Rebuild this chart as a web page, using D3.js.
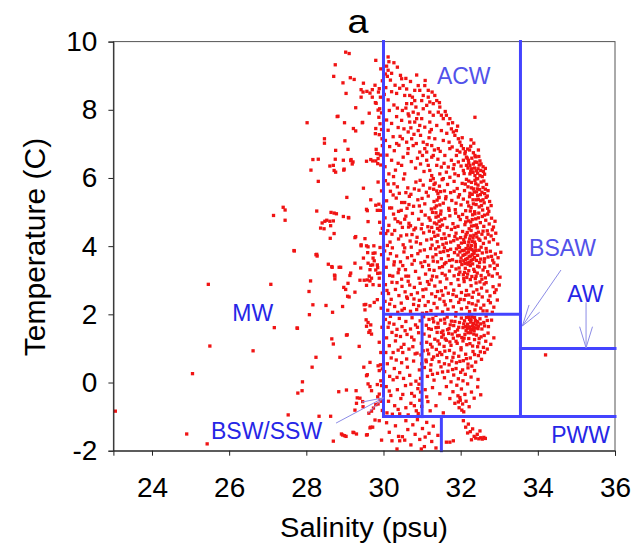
<!DOCTYPE html>
<html>
<head>
<meta charset="utf-8">
<script src="https://cdn.jsdelivr.net/npm/d3@7/dist/d3.min.js"></script>
<style>
  html, body { margin: 0; padding: 0; background: #fff; }
  svg { display: block; font-family: "Liberation Sans", Arial, sans-serif; }
</style>
</head>
<body>
<svg id="chart" width="644" height="552"></svg>
<script>
// Salinity / temperature samples, flat [S, T, S, T, ...] lists grouped by water mass.

// Mixed / melt water, fresher than 30 psu
const mwSamples = [
  29.02,9.69, 29.11,9.65, 28.75,9.32, 28.71,8.98, 29.80,9.45, 29.14,8.94, 29.24,8.89, 28.95,8.79,
  29.03,8.48, 29.48,8.78, 29.42,8.59, 29.47,8.52, 29.57,8.54, 29.71,8.59, 29.78,8.72, 29.42,8.37,
  29.65,8.49, 29.71,8.37, 29.87,8.52, 29.92,8.37, 29.81,8.19, 29.90,8.03, 29.95,7.91, 29.28,8.06,
  29.63,7.90, 28.82,7.81, 28.02,7.62, 28.99,7.62, 29.46,7.63, 29.22,7.45, 29.28,7.38, 29.80,7.45,
  29.91,7.59, 29.95,7.42, 29.89,7.27, 29.96,7.15, 28.47,7.15, 28.47,7.02, 29.00,7.09, 28.76,6.81,
  29.08,6.84, 29.81,6.84, 29.86,6.71, 29.92,6.67, 29.80,6.50, 29.86,6.57, 28.17,6.54, 28.31,6.55,
  28.75,6.55, 28.96,6.52, 29.16,6.54, 29.21,6.47, 29.56,6.49, 29.67,6.54, 29.72,6.50, 28.61,6.35,
  28.70,6.37, 28.72,6.22, 28.97,6.23, 28.12,6.23, 29.93,6.38, 29.89,8.62, 29.79,8.21, 29.86,7.99,
  28.80,7.80, 29.45,7.62, 29.79,7.30, 29.82,6.72, 29.85,6.42, 29.15,6.51, 29.19,6.41, 28.98,6.26,
  28.76,6.17, 29.97,8.85, 29.93,9.20, 29.88,7.78, 29.97,6.95,
  28.31,5.90, 29.48,5.70, 29.05,5.43, 29.67,5.36, 29.80,5.20, 29.88,5.23, 29.84,5.05, 29.92,5.05,
  29.97,5.17, 28.27,5.03, 28.64,4.99, 28.72,4.97, 28.78,4.95, 28.96,4.87, 29.10,4.83, 29.58,5.04,
  28.48,4.73, 28.41,4.68, 28.53,4.76, 28.61,4.73, 28.70,4.74, 28.37,4.53, 28.46,4.51, 28.63,4.60,
  29.60,4.72, 28.72,4.37, 28.62,4.23, 29.26,4.25, 29.52,4.22, 29.93,4.38, 29.42,4.04, 29.60,3.98,
  29.75,4.01, 29.91,3.96, 27.40,5.14, 27.45,5.06, 27.15,4.90, 27.45,4.76, 29.56,5.08, 29.09,4.84,
  29.28,4.28, 29.95,5.62, 29.90,4.70, 29.97,4.52, 29.86,5.88,
  27.68,3.87, 28.25,3.75, 28.28,3.71, 29.48,3.65, 29.73,3.65, 29.78,3.80, 29.95,3.75, 28.57,3.47,
  28.67,3.38, 28.89,3.38, 29.26,3.50, 29.41,3.36, 29.67,3.44, 29.65,3.31, 29.84,3.45, 29.15,3.21,
  29.13,3.14, 28.74,3.13, 28.74,3.04, 29.91,3.21, 29.89,3.06, 29.69,3.06, 29.58,3.01, 29.65,2.98,
  28.11,2.98, 28.07,2.67, 28.97,2.79, 29.07,2.53, 29.11,2.51, 29.26,2.65, 29.56,2.85, 29.73,2.87,
  29.89,2.85, 28.17,2.28, 28.51,2.26, 28.68,2.06, 28.94,2.23, 29.50,2.28, 29.65,2.25, 29.76,2.35,
  29.84,2.43, 28.66,3.40, 28.73,3.15, 28.85,3.38, 29.02,2.73, 29.08,2.91, 29.39,3.00, 29.50,3.00,
  29.42,4.01, 29.56,4.01, 29.59,3.81, 29.73,3.79, 29.60,3.50, 29.72,3.45, 29.76,3.57, 29.63,3.12,
  29.80,3.30, 29.85,3.37, 29.85,3.20, 29.52,2.13, 29.54,2.29, 29.97,2.62, 29.94,2.18,
  25.46,2.88, 27.08,2.88, 27.17,1.61, 27.77,1.59, 27.69,3.86, 28.27,3.76,
  28.08,1.99, 27.76,1.60, 28.70,1.13, 28.66,1.28, 29.06,1.40, 29.55,1.84, 29.60,1.76, 29.67,1.69,
  29.56,1.65, 29.65,1.52, 29.69,1.42, 29.62,1.47, 29.37,1.06, 29.89,1.18, 28.25,0.74, 28.87,0.74,
  29.65,0.59, 29.49,0.45, 29.86,0.49, 29.92,0.52, 29.89,0.35, 29.97,0.40, 28.15,0.45, 29.58,0.23,
  29.93,0.05, 29.95,-0.09, 29.84,-0.06, 27.90,0.02, 27.89,-0.24, 27.78,-0.31, 28.84,-0.27, 29.29,-0.24,
  29.65,-0.12, 29.69,-0.24, 29.89,-0.34, 29.85,-0.42, 29.91,-0.51, 29.86,-0.63, 29.95,-0.55, 29.32,-0.45,
  29.46,-0.56, 29.80,-0.65, 29.74,-0.75, 29.69,-0.84, 29.62,-0.90, 28.33,-0.99, 28.63,-0.99, 29.26,-0.81,
  25.50,1.07, 26.62,0.93, 25.05,0.26, 23.05,-0.84, 27.53,-0.95, 29.04,1.39, 29.56,0.20, 29.60,-0.04,
  29.39,-0.46, 29.30,-0.61, 29.47,-0.71, 29.04,-0.22, 29.96,1.62, 29.93,0.88, 29.97,-0.82,
  29.78,-1.10, 29.89,-1.12, 29.72,-1.31, 28.91,-1.51, 28.99,-1.56, 29.21,-1.46, 29.30,-1.51, 28.70,-1.72,
  29.58,-1.53, 29.65,-1.33, 29.95,-1.69, 28.94,-1.54, 29.03,-1.58, 29.23,-1.47, 29.56,-1.54, 29.67,-1.31,
  24.90,-1.51, 25.43,-1.80
];

// Alaskan Coastal Water: 30 to 33.55 psu, warmer than 2 C
const acwSamples = [
  30.12,9.55, 30.14,9.41, 30.08,9.28, 30.12,9.16, 30.21,9.07, 30.10,8.98, 30.18,8.87, 30.30,8.72,
  30.06,8.65, 30.21,8.53, 30.34,8.48, 30.42,8.63, 30.12,8.29, 30.27,8.14, 30.15,7.98, 30.34,7.80,
  30.08,7.70, 30.21,7.60, 30.38,7.48, 30.12,7.40, 30.25,7.21, 30.05,7.10, 30.34,7.01, 30.16,6.92,
  30.28,6.80, 30.09,6.67, 30.21,6.52, 30.38,6.43, 30.04,6.33, 30.31,6.23, 30.14,6.12, 30.26,6.04,
  30.40,6.96, 30.43,7.22, 30.36,8.05, 30.02,8.45, 30.05,9.05,
  30.47,8.91, 30.51,8.71, 30.55,8.42, 30.60,8.18, 30.49,7.98, 30.47,7.69, 30.53,7.44, 30.49,7.15,
  30.60,7.05, 30.64,6.86, 30.51,6.61, 30.47,6.37, 30.55,6.12, 30.68,8.42, 30.75,8.37, 30.81,8.27,
  30.73,8.18, 30.84,8.08, 30.77,7.93, 30.90,7.88, 30.86,7.74, 30.81,7.64, 30.94,7.54, 30.90,7.39,
  30.96,7.25, 31.03,7.05, 31.07,6.86, 31.01,6.66, 31.12,6.52, 31.16,6.37, 31.20,6.22, 31.25,6.07,
  31.29,5.98, 30.90,8.71, 30.94,8.57, 31.07,8.71, 31.03,8.42, 31.16,8.37, 31.20,8.23, 31.12,8.13,
  31.29,8.18, 31.33,8.42, 31.38,8.27, 31.46,8.08, 31.42,7.93, 31.50,7.84, 31.55,7.74, 31.63,7.84,
  31.72,7.74, 31.68,7.59, 31.76,7.44, 31.81,7.35, 31.89,7.39, 31.85,7.25, 31.94,7.15, 31.98,7.05,
  32.02,6.95, 32.07,6.86, 31.98,6.76, 32.11,6.71, 32.15,6.61, 32.20,6.52, 32.24,6.37, 32.28,6.27,
  32.32,6.17, 32.37,6.07, 32.41,5.98, 32.24,6.12, 32.07,6.22, 31.94,6.47, 31.81,6.27, 31.63,6.17,
  31.55,5.98, 31.46,6.12, 31.38,6.37, 31.29,6.66, 31.25,6.95, 31.33,7.15, 31.20,7.35, 31.07,7.49,
  30.99,7.74, 31.20,7.64, 31.38,7.54, 31.50,7.39, 31.55,7.10, 31.42,6.86, 31.59,6.66, 31.72,6.86,
  31.76,6.52, 31.89,6.66, 32.07,6.52, 32.15,6.37, 32.37,6.66, 32.37,6.47, 32.45,6.27, 32.50,6.07,
  31.94,6.07, 31.72,6.02, 31.85,6.12, 31.50,6.32, 31.68,6.32, 31.25,6.61, 31.12,6.76, 30.94,6.76,
  30.77,6.95, 30.73,7.15, 30.64,7.35, 30.68,7.64, 30.64,7.88, 31.03,8.03, 31.20,7.93, 31.29,7.84,
  30.60,8.61, 30.81,8.57, 30.99,8.27, 31.16,8.57, 32.37,7.78,
  32.18,6.85, 32.26,6.93, 32.33,6.74, 32.29,6.58, 32.42,6.46, 32.48,6.38, 32.36,6.29, 32.52,6.22,
  32.58,6.33, 32.44,6.14, 32.31,6.17, 32.56,6.04, 32.62,6.11, 32.50,6.50, 32.39,6.62, 32.21,6.44,
  32.12,6.77, 32.46,6.82, 32.34,7.02, 32.27,7.12,
  30.58,8.05, 30.66,7.82, 30.71,7.47, 30.79,7.28, 30.85,7.01, 30.63,6.72, 30.72,6.48, 30.83,6.29,
  30.96,6.41, 31.05,6.19, 30.88,6.58, 31.13,6.98, 31.18,7.18, 31.24,7.42, 31.32,6.82, 31.41,6.55,
  31.47,6.78, 31.57,6.43, 31.64,7.31, 31.70,7.05, 31.78,6.91, 31.83,6.39, 31.91,6.81, 32.01,6.35,
  32.09,6.13, 32.19,6.29, 32.26,6.19, 32.33,6.41, 32.41,6.21, 32.47,6.63, 32.53,6.41, 32.59,6.19,
  32.64,6.28, 32.17,6.58, 32.23,6.82, 32.04,7.18, 31.92,7.52, 31.79,7.62, 31.60,7.95, 31.45,8.21,
  31.26,8.52, 31.08,8.86, 30.86,9.02, 30.70,8.83, 30.36,9.25, 30.27,9.38, 30.44,9.01, 30.58,8.92,
  30.05,5.92, 30.18,5.61, 30.27,5.83, 30.41,5.55, 30.52,5.97, 30.63,5.71, 30.71,5.52, 30.84,5.88,
  30.92,5.64, 31.03,5.79, 31.11,5.58, 31.22,5.93, 31.30,5.67, 31.34,5.85, 31.41,5.54, 31.45,5.76,
  31.52,5.95, 31.58,5.62, 31.66,5.81, 31.74,5.57, 31.83,5.90, 31.91,5.69, 31.97,5.51, 32.04,5.84,
  32.10,5.63, 32.15,5.96, 32.19,5.74, 32.24,5.55, 32.28,5.87, 32.33,5.68, 32.37,5.93, 32.41,5.59,
  32.45,5.79, 32.49,5.66, 32.53,5.88, 32.58,5.72, 32.62,5.54, 32.67,5.81, 32.71,5.63, 30.36,5.74,
  30.95,5.93, 31.48,5.60, 32.21,5.91, 32.39,5.83, 32.55,5.58, 32.30,5.52, 32.44,5.98, 32.60,5.91,
  30.08,5.33, 30.21,5.12, 30.33,5.41, 30.46,5.05, 30.55,5.28, 30.67,5.46, 30.78,5.17, 30.89,5.36,
  30.98,5.02, 31.07,5.24, 31.16,5.47, 31.24,5.09, 31.31,5.31, 31.37,5.18, 31.43,5.42, 31.49,5.03,
  31.55,5.26, 31.61,5.39, 31.69,5.11, 31.77,5.34, 31.86,5.07, 31.94,5.44, 32.01,5.21, 32.07,5.38,
  32.13,5.04, 32.18,5.29, 32.23,5.45, 32.27,5.13, 32.32,5.36, 32.36,5.01, 32.40,5.22, 32.44,5.48,
  32.48,5.15, 32.52,5.33, 32.57,5.06, 32.61,5.27, 32.66,5.43, 32.70,5.11, 32.75,5.31, 32.79,5.19,
  31.39,5.35, 31.46,5.21, 31.33,5.12, 32.25,5.03, 32.46,5.37, 30.61,5.11, 31.88,5.26,
  30.04,4.83, 30.14,4.61, 30.26,4.94, 30.37,4.72, 30.49,4.55, 30.58,4.88, 30.66,4.67, 30.75,4.96,
  30.83,4.53, 30.91,4.79, 31.00,4.64, 31.08,4.91, 31.15,4.57, 31.21,4.76, 31.27,4.99, 31.32,4.68,
  31.36,4.85, 31.40,4.52, 31.44,4.73, 31.48,4.94, 31.53,4.62, 31.59,4.81, 31.65,4.55, 31.72,4.89,
  31.80,4.66, 31.87,4.97, 31.93,4.58, 31.99,4.78, 32.05,4.93, 32.11,4.63, 32.16,4.84, 32.22,4.51,
  32.26,4.71, 32.31,4.92, 32.35,4.60, 32.39,4.80, 32.43,4.54, 32.47,4.97, 32.51,4.69, 32.56,4.87,
  32.60,4.58, 32.65,4.76, 32.70,4.94, 32.74,4.65, 32.80,4.82, 32.85,4.56, 32.89,4.73, 31.38,4.65,
  31.42,4.88, 31.50,4.77, 32.20,4.74, 32.28,4.59, 32.37,4.95, 30.70,4.60, 31.25,4.55,
  30.06,4.37, 30.17,4.12, 30.29,4.46, 30.39,4.21, 30.51,4.04, 30.60,4.33, 30.69,4.15, 30.79,4.48,
  30.87,4.26, 30.96,4.07, 31.04,4.39, 31.12,4.18, 31.19,4.44, 31.26,4.03, 31.33,4.29, 31.39,4.13,
  31.45,4.47, 31.51,4.22, 31.57,4.36, 31.63,4.09, 31.70,4.31, 31.76,4.49, 31.82,4.16, 31.88,4.38,
  31.94,4.01, 32.00,4.25, 32.05,4.43, 32.10,4.11, 32.14,4.34, 32.19,4.02, 32.23,4.21, 32.27,4.46,
  32.30,4.14, 32.34,4.32, 32.38,4.05, 32.42,4.27, 32.46,4.41, 32.50,4.17, 32.55,4.35, 32.59,4.08,
  32.64,4.24, 32.69,4.45, 32.74,4.12, 32.79,4.30, 32.85,4.19, 32.91,4.38, 32.96,4.06, 31.85,4.28,
  32.08,4.19, 32.17,4.40, 32.25,4.30, 32.32,4.24, 32.40,4.37, 31.60,4.23, 30.45,4.30,
  30.03,3.86, 30.12,3.62, 30.23,3.95, 30.34,3.71, 30.44,3.54, 30.53,3.83, 30.62,3.66, 30.72,3.97,
  30.80,3.58, 30.89,3.78, 30.97,3.51, 31.06,3.89, 31.14,3.69, 31.22,3.93, 31.29,3.56, 31.36,3.75,
  31.43,3.98, 31.50,3.63, 31.56,3.84, 31.62,3.52, 31.68,3.72, 31.74,3.91, 31.79,3.60, 31.84,3.81,
  31.89,3.55, 31.93,3.74, 31.97,3.96, 32.01,3.65, 32.04,3.87, 32.08,3.57, 32.11,3.76, 32.14,3.93,
  32.17,3.64, 32.20,3.83, 32.23,3.53, 32.26,3.71, 32.29,3.90, 32.32,3.61, 32.35,3.79, 32.38,3.97,
  32.41,3.58, 32.44,3.73, 32.48,3.88, 32.52,3.62, 32.56,3.80, 32.61,3.54, 32.66,3.93, 32.71,3.68,
  32.77,3.85, 32.83,3.59, 32.90,3.77, 32.97,3.66, 33.04,3.82, 32.16,3.80, 32.22,3.69, 32.27,3.58,
  32.33,3.86, 32.18,3.51, 32.06,3.73, 32.13,3.61, 32.25,3.94, 31.98,3.83, 32.36,3.67,
  30.07,3.38, 30.16,3.14, 30.27,3.45, 30.38,3.22, 30.47,3.03, 30.57,3.31, 30.65,3.12, 30.74,3.47,
  30.83,3.26, 30.92,3.06, 31.01,3.40, 31.09,3.18, 31.17,3.44, 31.24,3.01, 31.31,3.29, 31.38,3.10,
  31.45,3.37, 31.52,3.20, 31.58,3.48, 31.64,3.04, 31.71,3.27, 31.77,3.41, 31.83,3.13, 31.88,3.33,
  31.93,3.02, 31.98,3.24, 32.03,3.46, 32.07,3.16, 32.12,3.35, 32.16,3.08, 32.21,3.28, 32.25,3.43,
  32.29,3.11, 32.34,3.32, 32.38,3.05, 32.43,3.21, 32.48,3.39, 32.53,3.14, 32.58,3.30, 32.64,3.07,
  32.70,3.25, 32.76,3.42, 32.82,3.12, 32.88,3.34, 32.95,3.19, 33.02,3.09, 32.19,3.47, 31.96,3.36,
  32.10,3.23, 30.50,3.43, 31.60,3.15,
  30.05,2.87, 30.13,2.61, 30.22,2.94, 30.31,2.73, 30.40,2.55, 30.48,2.82, 30.56,2.66, 30.64,2.97,
  30.72,2.58, 30.80,2.79, 30.88,2.63, 30.95,2.91, 31.03,2.52, 31.10,2.74, 31.18,2.88, 31.25,2.60,
  31.33,2.83, 31.40,2.67, 31.47,2.95, 31.54,2.56, 31.61,2.78, 31.68,2.62, 31.75,2.90, 31.82,2.71,
  31.89,2.53, 31.96,2.85, 32.02,2.64, 32.09,2.96, 32.15,2.70, 32.21,2.57, 32.27,2.84, 32.33,2.65,
  32.40,2.92, 32.47,2.59, 32.54,2.77, 32.61,2.89, 32.68,2.68, 32.76,2.54, 32.84,2.81, 32.92,2.72,
  33.00,2.86, 30.35,2.93, 30.60,2.51, 31.50,2.69,
  30.04,2.38, 30.11,2.12, 30.20,2.44, 30.29,2.23, 30.37,2.06, 30.46,2.33, 30.54,2.17, 30.62,2.47,
  30.70,2.09, 30.78,2.29, 30.86,2.14, 30.93,2.41, 31.01,2.03, 31.08,2.26, 31.16,2.37, 31.23,2.11,
  31.31,2.32, 31.39,2.19, 31.46,2.45, 31.53,2.07, 31.60,2.28, 31.67,2.15, 31.74,2.40, 31.81,2.22,
  31.88,2.05, 31.95,2.35, 32.02,2.16, 32.09,2.43, 32.16,2.20, 32.23,2.08, 32.30,2.31, 32.37,2.13,
  32.45,2.39, 32.52,2.18, 32.60,2.27, 32.68,2.10, 32.77,2.34, 32.86,2.21, 32.95,2.42,
  32.12,5.82, 32.28,5.71, 32.35,5.59, 32.43,5.68, 32.51,5.51, 32.64,5.67, 32.69,5.47, 32.58,5.36,
  32.40,5.36, 32.21,5.18, 32.33,5.24, 32.54,5.19, 32.73,5.02, 32.62,4.91, 32.46,4.83, 32.30,4.78,
  32.13,4.71, 32.41,4.62, 32.58,4.44, 32.82,4.48, 32.71,4.35, 32.47,4.21, 32.36,4.12, 32.21,4.12,
  32.12,4.27, 32.02,4.09, 31.91,4.21, 32.28,4.02, 32.53,3.97, 32.67,3.83, 32.80,3.70, 32.62,3.63,
  32.49,3.52, 32.40,3.87, 32.30,3.75, 32.21,3.92, 32.09,3.88, 31.99,3.55, 32.11,3.49, 32.31,3.48,
  32.44,3.41, 32.62,3.38, 32.86,3.51, 32.95,3.44, 32.73,3.16, 32.55,3.03, 32.40,3.12, 32.25,3.02,
  32.08,3.05, 31.95,3.17, 32.18,3.18, 32.36,3.26, 32.50,2.95, 32.66,2.93, 32.88,2.64, 32.72,2.41,
  32.56,2.51, 32.42,2.72, 32.30,2.50, 32.13,2.56, 31.99,2.44, 32.21,2.34, 32.40,2.27, 32.58,2.10,
  32.82,2.06, 31.31,5.81, 31.38,5.62, 31.44,5.43, 31.36,4.98, 31.47,4.58, 31.30,4.41, 31.41,4.32,
  31.54,4.05, 31.35,3.92, 31.47,3.82, 31.28,3.68, 31.40,3.54, 31.53,3.40, 31.19,3.31, 31.07,3.55,
  30.95,3.86, 30.85,4.12, 30.74,4.34, 30.65,4.56, 30.55,4.79, 30.47,5.28, 30.39,5.02, 30.30,4.80,
  30.22,4.35, 30.10,4.02, 30.18,3.78, 30.28,3.54, 30.40,3.32, 30.58,3.12, 30.68,2.86, 30.79,2.45,
  30.91,2.25, 31.02,2.72, 31.14,2.96, 31.27,3.12, 31.66,3.87, 31.74,4.12, 31.85,4.55, 31.95,4.87,
  31.70,5.05, 31.83,5.61, 31.62,5.45, 31.20,5.70, 31.00,5.40, 30.80,5.68, 30.58,5.57, 30.25,5.50,
  30.12,5.82, 30.16,5.12, 30.11,4.45, 30.24,3.12, 30.09,2.70, 30.16,2.30, 30.48,2.12, 31.12,2.05,
  31.35,2.52, 31.57,2.38, 31.80,2.58, 31.71,3.58, 31.89,3.92, 31.58,3.95, 31.24,4.21, 30.98,4.51,
  30.73,3.72, 30.55,3.95, 30.44,4.68, 30.66,5.22, 30.93,5.18, 31.18,4.83
];

// Bering Shelf Water / Siberian Shelf Water: 30 to 31 psu, -1 to 2 C
const bswSamples = [
  30.05,1.85, 30.12,1.62, 30.08,1.31, 30.18,1.94, 30.22,1.47, 30.15,1.08, 30.27,1.71, 30.31,1.22,
  30.06,0.88, 30.35,1.56, 30.41,1.88, 30.44,1.35, 30.38,0.95, 30.48,1.64, 30.53,1.12, 30.58,1.79,
  30.61,1.41, 30.66,0.98, 30.70,1.57, 30.74,1.90, 30.79,1.25, 30.83,1.69, 30.87,0.86, 30.91,1.46,
  30.95,1.81, 30.20,0.72, 30.10,0.55, 30.28,0.41, 30.16,0.18, 30.33,0.66, 30.25,0.08, 30.07,-0.12,
  30.36,-0.21, 30.19,-0.38, 30.42,0.29, 30.47,0.58, 30.52,0.12, 30.57,-0.09, 30.62,0.45, 30.68,0.21,
  30.73,-0.32, 30.78,0.63, 30.84,0.04, 30.89,-0.18, 30.93,0.37, 30.97,0.81, 30.13,-0.55, 30.29,-0.68,
  30.45,-0.47, 30.58,-0.74, 30.71,-0.61, 30.85,-0.83, 30.94,-0.52, 30.09,-0.89, 30.23,-0.93, 30.38,-0.79,
  30.64,-0.95, 30.80,-0.40, 30.96,-0.28, 30.99,-0.70, 30.90,-0.91, 30.03,0.32, 30.50,0.88, 30.98,1.15,
  30.76,1.05, 30.96,0.12, 30.92,-0.05, 30.99,0.55,
  30.15,1.75, 30.33,1.38, 30.56,1.52, 30.73,1.33, 30.88,1.62, 30.46,1.03, 30.25,0.88, 30.60,0.69,
  30.82,0.84, 30.35,0.15, 30.71,-0.05, 30.50,-0.35, 30.15,-0.25, 30.42,-0.92, 30.80,-0.68
];

// Bering Sea Anadyr Water: 31 to 33.55 psu, -1 to 2 C
const bsawSamples = [
  31.04,1.93, 31.11,1.68, 31.18,1.85, 31.24,1.56, 31.30,1.78, 31.36,1.97, 31.42,1.62, 31.48,1.83,
  31.54,1.51, 31.59,1.74, 31.65,1.92, 31.70,1.58, 31.76,1.80, 31.82,1.67, 31.87,1.95, 31.92,1.54,
  31.97,1.76, 32.02,1.89, 32.06,1.61, 32.10,1.81, 32.14,1.52, 32.18,1.71, 32.21,1.94, 32.24,1.63,
  32.27,1.84, 32.30,1.55, 32.33,1.73, 32.36,1.91, 32.39,1.60, 32.42,1.79, 32.46,1.66, 32.50,1.87,
  32.55,1.57, 32.60,1.76, 32.66,1.95, 32.72,1.64, 32.80,1.83, 32.20,1.62, 32.26,1.77, 32.31,1.66,
  32.35,1.52, 32.23,1.85, 32.17,1.58, 32.40,1.69,
  31.05,1.42, 31.12,1.18, 31.19,1.36, 31.26,1.04, 31.33,1.27, 31.39,1.47, 31.45,1.13, 31.51,1.33,
  31.57,1.06, 31.63,1.24, 31.69,1.44, 31.75,1.09, 31.81,1.30, 31.86,1.49, 31.91,1.15, 31.96,1.38,
  32.01,1.02, 32.06,1.22, 32.11,1.41, 32.16,1.11, 32.21,1.29, 32.26,1.46, 32.31,1.07, 32.36,1.26,
  32.41,1.39, 32.47,1.16, 32.53,1.34, 32.59,1.03, 32.65,1.21, 32.71,1.45, 32.78,1.12, 32.86,1.31,
  31.72,1.19, 31.55,1.40, 32.03,1.32,
  31.03,0.93, 31.10,0.66, 31.17,0.84, 31.23,0.52, 31.30,0.75, 31.37,0.97, 31.44,0.61, 31.51,0.82,
  31.58,0.55, 31.64,0.73, 31.71,0.94, 31.77,0.63, 31.83,0.86, 31.89,0.58, 31.95,0.77, 32.01,0.96,
  32.07,0.64, 32.13,0.83, 32.19,0.54, 32.25,0.72, 32.32,0.91, 32.39,0.60, 32.46,0.79, 32.54,0.68,
  32.62,0.88, 31.46,0.88,
  31.06,0.44, 31.14,0.18, 31.22,0.36, 31.31,0.07, 31.40,0.27, 31.49,0.46, 31.58,0.14, 31.67,0.33,
  31.75,0.02, 31.82,0.22, 31.88,0.41, 31.94,0.11, 32.00,0.30, 32.06,0.05, 32.12,0.24, 32.19,0.43,
  32.27,0.16, 32.36,0.35, 32.45,0.09, 31.79,0.38,
  31.08,-0.21, 31.15,-0.56, 31.21,-0.83, 31.12,-0.42, 31.27,-0.15, 31.36,-0.68, 31.46,-0.33, 31.55,-0.89,
  31.63,-0.12, 31.72,-0.47, 31.80,-0.27, 31.85,-0.61, 31.90,-0.08, 31.93,-0.39, 31.96,-0.74, 31.99,-0.52,
  32.02,-0.19, 32.05,-0.63, 32.08,-0.86, 32.11,-0.35, 32.14,-0.55, 32.18,-0.04, 32.22,-0.71, 32.28,-0.28,
  32.35,-0.46, 32.44,-0.13, 32.52,-0.36, 31.98,-0.44, 32.03,-0.81, 31.94,-0.57,
  31.28,1.88, 31.41,1.74, 31.58,1.86, 31.73,1.69, 31.85,1.79, 31.95,1.62, 32.08,1.72, 32.15,1.91,
  32.29,1.93, 32.38,1.82, 32.45,1.58, 32.52,1.72, 32.62,1.66, 32.69,1.82, 32.26,1.55, 32.13,1.64,
  32.33,1.61, 32.44,1.77, 32.19,1.46, 32.34,1.42, 32.48,1.29, 32.61,1.38, 32.09,1.30, 31.92,1.37,
  31.78,1.42, 31.60,1.28, 31.41,1.22, 31.22,1.12, 31.17,1.58, 31.36,1.61, 31.50,1.47, 31.66,1.55,
  31.88,1.21, 32.24,1.14, 32.44,1.05, 32.69,0.98, 32.51,0.90, 32.36,0.82, 32.15,0.70, 31.98,0.62,
  31.80,0.74, 31.59,0.92, 31.40,0.80, 31.26,0.68, 31.14,0.95, 32.29,0.48, 32.05,0.37, 31.70,0.52,
  31.53,0.31, 31.27,0.24, 31.11,0.61
];

// Pacific Winter Water, colder than -1 C
const pwwSamples = [
  30.08,-1.18, 30.15,-1.46, 30.22,-1.71, 30.31,-1.27, 30.39,-1.58, 30.42,-1.71, 30.49,-1.59, 30.55,-1.69,
  30.58,-1.12, 30.63,-1.38, 30.71,-1.83, 30.76,-1.24, 30.82,-1.52, 30.88,-1.09, 30.94,-1.67, 31.01,-1.35,
  31.06,-1.88, 31.12,-1.17, 31.18,-1.49, 31.25,-1.73, 31.29,-1.28, 31.36,-1.92, 31.41,-1.55, 31.63,-1.75,
  31.72,-1.75, 31.81,-1.71, 32.07,-1.12, 32.13,-1.31, 32.20,-1.22, 32.25,-1.44, 32.31,-1.36, 32.35,-1.58,
  32.39,-1.63, 32.43,-1.52, 32.47,-1.65, 32.52,-1.62, 32.56,-1.66, 32.60,-1.61, 32.64,-1.64, 32.50,-1.42,
  32.28,-1.68, 32.18,-1.48, 30.35,-1.95, 30.98,-1.95, 31.08,-1.60
];

// Atlantic Water
const awSamples = [34.20, 0.81];

// Axis ticks
const salinityTicks = [24, 26, 28, 30, 32, 34, 36];
const temperatureTicks = [-2, 0, 2, 4, 6, 8, 10];

// Water-mass boundaries, as [S1, T1, S2, T2] segments
const boundaries = [
  [30, 10, 30, -1],
  [33.55, 10, 33.55, -1],
  [30, 2, 33.55, 2],
  [31, 2, 31, -1],
  [30, -1, 36, -1],
  [31.5, -1, 31.5, -2],
  [33.55, 1, 36, 1]
];

const svg = d3.select("#chart");
const x = d3.scaleLinear().domain([23, 36]).range([113.4, 615]);
const y = d3.scaleLinear().domain([-2, 10]).range([450.7, 41.6]);

const toPoints = flat => d3.range(0, flat.length, 2).map(i => ({ s: flat[i], t: flat[i + 1] }));
const samples = [mwSamples, acwSamples, bswSamples, bsawSamples, pwwSamples, awSamples].flatMap(toPoints);

// plot frame
svg.append("rect")
  .attr("x", x(23)).attr("y", y(10))
  .attr("width", x(36) - x(23)).attr("height", y(-2) - y(10))
  .attr("fill", "none").attr("stroke", "#555").attr("stroke-width", 1);

// scatter
const sz = 3.3;
svg.append("g").selectAll("rect").data(samples).join("rect")
  .attr("x", d => x(d.s) - sz / 2)
  .attr("y", d => y(d.t) - sz / 2)
  .attr("width", sz).attr("height", sz)
  .attr("fill", "#f01414");

// boundaries
svg.append("g").selectAll("line").data(boundaries).join("line")
  .attr("x1", d => x(d[0])).attr("y1", d => y(d[1]))
  .attr("x2", d => x(d[2])).attr("y2", d => y(d[3]))
  .attr("stroke", "#4444ff").attr("stroke-width", 3).attr("stroke-linecap", "square");

// axes
const xAxis = svg.append("g").attr("transform", `translate(0,${y(-2)})`)
  .call(d3.axisBottom(x).tickValues(salinityTicks).tickFormat(d => String(d)).tickSize(5).tickPadding(21));
const yAxis = svg.append("g").attr("transform", `translate(${x(23)},0)`)
  .call(d3.axisLeft(y).tickValues(temperatureTicks).tickFormat(d => String(d)).tickSize(5).tickPadding(11));
[xAxis, yAxis].forEach(g => {
  g.selectAll("text").attr("font-size", 28).attr("fill", "#000")
    .attr("font-family", "'Liberation Sans', Arial, sans-serif");
  g.selectAll("line").attr("stroke", "#222");
  g.select(".domain").attr("stroke", "#222");
});

// axis titles and panel letter
svg.append("text").attr("x", 364).attr("y", 537).attr("text-anchor", "middle")
  .attr("font-size", 27).attr("textLength", 168).attr("lengthAdjust", "spacingAndGlyphs")
  .text("Salinity (psu)");
svg.append("text").attr("transform", "translate(45,247) rotate(-90)").attr("text-anchor", "middle")
  .attr("font-size", 30).text("Temperature (C)");
svg.append("text").attr("x", 358).attr("y", 33).attr("text-anchor", "middle")
  .attr("font-size", 33).attr("textLength", 21).attr("lengthAdjust", "spacingAndGlyphs")
  .text("a");

// water-mass labels
const labelStyle = [
  { name: "ACW", s: 32.08, t: 8.75, color: "#5252ea" },
  { name: "BSAW", s: 34.64, t: 3.71, color: "#5252ea" },
  { name: "AW", s: 35.23, t: 2.37, color: "#2626e6" },
  { name: "MW", s: 26.61, t: 1.80, color: "#2626e6" },
  { name: "BSW/SSW", s: 26.97, t: -1.67, color: "#2626e6" },
  { name: "PWW", s: 35.11, t: -1.77, color: "#2626e6" }
];
svg.append("g").selectAll("text").data(labelStyle).join("text")
  .attr("x", d => x(d.s)).attr("y", d => y(d.t))
  .attr("text-anchor", "middle").attr("font-size", 23)
  .attr("fill", d => d.color).text(d => d.name);

// pointer arrows: [S start, T start, S tip, T tip]
const pointers = [
  [28.77, -1.19, 30.0, -0.45],
  [34.60, 3.30, 33.60, 1.66],
  [35.25, 2.35, 35.25, 1.02]
];
const arrowG = svg.append("g").attr("stroke", "#8c8ce6").attr("stroke-width", 1).attr("fill", "none");
pointers.forEach(p => {
  const x0 = x(p[0]), y0 = y(p[1]), x1 = x(p[2]), y1 = y(p[3]);
  const ang = Math.atan2(y0 - y1, x0 - x1);
  const len = 22, spread = 17 * Math.PI / 180;
  arrowG.append("line").attr("x1", x0).attr("y1", y0).attr("x2", x1).attr("y2", y1);
  [-spread, spread].forEach(a => {
    arrowG.append("line").attr("x1", x1).attr("y1", y1)
      .attr("x2", x1 + len * Math.cos(ang + a)).attr("y2", y1 + len * Math.sin(ang + a));
  });
});
</script>
</body>
</html>
